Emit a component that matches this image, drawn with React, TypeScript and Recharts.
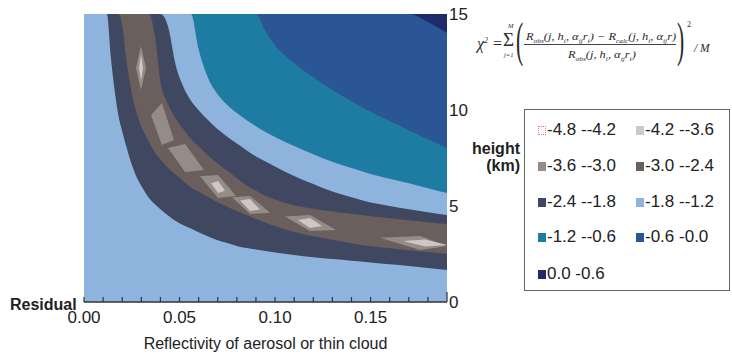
import React from 'react';
import { Area, CartesianGrid, ComposedChart, XAxis, YAxis } from 'recharts';

// reflectivity grid (x) and the height (km) of each contour line
const reflectivity = [
  0, 0.008, 0.01, 0.012, 0.014, 0.016, 0.018, 0.02, 0.022, 0.025, 0.028, 0.031, 0.034,
  0.037, 0.04, 0.044, 0.048, 0.052, 0.056, 0.06, 0.065, 0.07, 0.075, 0.08, 0.085, 0.09,
  0.095, 0.1, 0.11, 0.12, 0.13, 0.14, 0.15, 0.16, 0.17, 0.18, 0.19,
];
// 0.0 contour (blue / navy)
const contourZero = [
  15, 15, 15, 15, 15, 15, 15, 15, 15, 15, 15, 15, 15, 15, 15, 15, 15, 15, 15, 15, 15, 15,
  15, 15, 15, 15, 15, 15, 15, 15, 15, 15, 15, 15, 15, 14.58, 14.01,
];
// -0.6 contour (teal / blue)
const contour06 = [
  15, 15, 15, 15, 15, 15, 15, 15, 15, 15, 15, 15, 15, 15, 15, 15, 15, 15, 15, 15, 15, 15,
  15, 15, 15, 15, 14.1, 13.37, 12.44, 11.7, 11.04, 10.46, 9.91, 9.43, 8.95, 8.48, 8.02,
];
// -1.2 contour (light blue / teal)
const contour12 = [
  15, 15, 15, 15, 15, 15, 15, 15, 15, 15, 15, 15, 15, 15, 15, 15, 15, 15, 15, 13.16, 11.65,
  10.81, 10.26, 9.84, 9.48, 9.16, 8.86, 8.6, 8.13, 7.69, 7.3, 6.98, 6.67, 6.42, 6.18, 5.93,
  5.68,
];
// -1.8 contour, upper branch
const contour18Upper = [
  15, 15, 15, 15, 15, 15, 15, 15, 15, 15, 15, 15, 15, 15, 15, 14.35, 12.33, 11.21, 10.48,
  9.99, 9.47, 9.0, 8.61, 8.25, 7.91, 7.58, 7.32, 7.06, 6.56, 6.14, 5.75, 5.45, 5.18, 5.0,
  4.83, 4.68, 4.53,
];
// -2.4 contour, upper branch
const contour24Upper = [
  15, 15, 15, 15, 15, 15, 15, 15, 15, 15, 15, 15, 15, 13.94, 11.49, 10.31, 9.54, 9.01, 8.49,
  8.11, 7.63, 7.21, 6.83, 6.45, 6.07, 5.8, 5.54, 5.34, 5.04, 4.86, 4.72, 4.59, 4.46, 4.36,
  4.26, 4.16, 4.06,
];
// -2.4 contour, lower branch
const contour24Lower = [
  15, 15, 15, 15, 15, 15, 15, 14.44, 12.76, 10.88, 9.69, 8.92, 8.34, 7.8, 7.43, 6.98, 6.64,
  6.29, 5.96, 5.74, 5.47, 5.2, 4.96, 4.74, 4.53, 4.32, 4.13, 3.96, 3.64, 3.42, 3.24, 3.06,
  2.9, 2.8, 2.7, 2.6, 2.5,
];
// -1.8 contour, lower branch
const contour18Lower = [
  15, 15, 15, 15, 12.79, 11.04, 9.71, 8.88, 8.15, 7.16, 6.41, 5.89, 5.42, 5.1, 4.83, 4.51,
  4.22, 4.0, 3.83, 3.63, 3.41, 3.22, 3.07, 2.92, 2.81, 2.74, 2.66, 2.58, 2.45, 2.33, 2.24,
  2.15, 2.06, 1.96, 1.87, 1.77, 1.67,
];

// small closed patches inside the trough: [reflectivity, low height, high height]
const ridgeSpots = [
  [[0.0272, 12.19, 12.19], [0.0298, 11.04, 13.33], [0.0325, 12.19, 12.19]],
  [[0.0351, 9.74, 9.74], [0.0408, 8.18, 10.36], [0.0471, 8.44, 8.44]],
  [[0.044, 8.02, 8.02], [0.0529, 6.77, 8.23], [0.0628, 6.88, 6.88]],
  [[0.0607, 6.55, 6.55], [0.0702, 5.42, 6.61], [0.0796, 5.52, 5.52]],
  [[0.0775, 5.45, 5.45], [0.0869, 4.58, 5.52], [0.0974, 4.65, 4.65]],
  [[0.1052, 4.45, 4.45], [0.1183, 3.7, 4.53], [0.1319, 3.75, 3.75]],
  [[0.155, 3.35, 3.35], [0.1759, 2.71, 3.44], [0.19, 2.92, 2.92]],
];
const peakSpots = [
  [[0.0288, 12.2, 12.2], [0.0298, 11.5, 12.9], [0.0309, 12.2, 12.2]],
  [[0.0665, 6.19, 6.19], [0.0702, 5.68, 6.3], [0.0738, 5.79, 5.79]],
  [[0.0817, 5.29, 5.29], [0.0869, 4.74, 5.36], [0.0921, 4.82, 4.82]],
  [[0.112, 4.27, 4.27], [0.1183, 3.85, 4.38], [0.1246, 3.96, 3.96]],
  [[0.167, 3.18, 3.18], [0.1785, 2.89, 3.26], [0.19, 2.97, 2.97]],
];

const xTicks = [
  0, 0.01, 0.02, 0.03, 0.04, 0.05, 0.06, 0.07, 0.08, 0.09, 0.1, 0.11, 0.12, 0.13, 0.14,
  0.15, 0.16, 0.17, 0.18, 0.19,
];
const xLabelTicks = [0, 0.05, 0.1, 0.15];
const heightTicks = [0, 5, 10, 15];

const legendLabels = [
  '-4.8 --4.2', '-4.2 --3.6', '-3.6 --3.0', '-3.0 --2.4', '-2.4 --1.8',
  '-1.8 --1.2', '-1.2 --0.6', '-0.6 -0.0', '0.0 -0.6',
];

const C = {
  navy: '#1e2a6b',
  blue: '#2a5696',
  teal: '#1e7ba1',
  light: '#8eb4de',
  slate: '#3f4860',
  brown: '#6a5f5c',
  mid: '#958b87',
  pale: '#cec8c4',
  text: '#222',
};
const legendColors = [null, C.pale, C.mid, C.brown, C.slate, C.light, C.teal, C.blue, C.navy];

const rows: any[] = reflectivity.map((x, i) => ({
  x,
  g: contourZero[i],
  f: contour06[i],
  e: contour12[i],
  d: contour18Upper[i],
  c: contour24Upper[i],
  b: contour24Lower[i],
  a: contour18Lower[i],
}));
ridgeSpots.forEach((spot) => {
  spot.forEach(([x, lo, hi]) => rows.push({ x, ridge: [lo, hi] }));
  rows.push({ x: spot[2][0], ridge: null });
});
peakSpots.forEach((spot) => {
  spot.forEach(([x, lo, hi]) => rows.push({ x, peak: [lo, hi] }));
  rows.push({ x: spot[2][0], peak: null });
});

function ReflectivityTick(props: any) {
  const { x, y, payload } = props;
  const v = payload.value;
  const last = v === 0.19;
  return (
    <g>
      <line x1={x} x2={x} y1={y} y2={y - (last ? 10 : 5)} stroke="#333" strokeWidth={1.2} />
      {xLabelTicks.includes(v) && (
        <text x={x} y={y + 21} textAnchor="middle" fontSize={17} fill={C.text}>
          {v.toFixed(2)}
        </text>
      )}
    </g>
  );
}

const band = (key: string, color: string, type: any = 'monotone') => (
  <Area
    key={key}
    dataKey={key}
    type={type}
    fill={color}
    fillOpacity={1}
    stroke="none"
    dot={false}
    activeDot={false}
    connectNulls={type === 'monotone'}
    isAnimationActive={false}
  />
);

function Formula() {
  const serif = '"Liberation Serif", "DejaVu Serif", serif';
  const sub = { fontSize: 6.5, verticalAlign: 'sub' } as const;
  const abs = (left: number, top: number, extra: any = {}) => ({
    position: 'absolute' as const,
    left,
    top,
    lineHeight: 1,
    whiteSpace: 'nowrap' as const,
    ...extra,
  });
  const stretch = { transform: 'scaleX(1.13)', transformOrigin: 'left center' };
  const paren = { fontSize: 48, fontStyle: 'normal', transform: 'scaleX(0.45)', transformOrigin: 'left center' };
  const term = (r: string) => (
    <>
      R<span style={sub}>{r === 'c' ? 'calc' : 'obs'}</span>(j, h<span style={sub}>i</span>, α
      <span style={sub}>ij</span>r{r === 'c' ? '' : <span style={sub}>i</span>})
    </>
  );
  return (
    <div style={{ fontFamily: serif, fontStyle: 'italic', color: '#2a2a2a' }}>
      <div style={abs(477, 36, { fontSize: 16 })}>
        χ<span style={{ fontSize: 8, verticalAlign: 'super' }}>2</span> =
      </div>
      <div style={abs(508, 23, { fontSize: 6.5 })}>M</div>
      <div style={abs(503, 30, { fontSize: 19, fontStyle: 'normal' })}>Σ</div>
      <div style={abs(504, 52, { fontSize: 6.5 })}>j=1</div>
      <div style={abs(516, 16, paren)}>(</div>
      <div style={abs(526, 31, { fontSize: 11, ...stretch })}>
        {term('o')} − {term('c')}
      </div>
      <div style={abs(524, 44, { width: 152, height: 1, background: '#444' })} />
      <div style={abs(568, 49, { fontSize: 11, ...stretch })}>{term('o')}</div>
      <div style={abs(677, 16, paren)}>)</div>
      <div style={abs(687, 21, { fontSize: 8, fontStyle: 'normal' })}>2</div>
      <div style={abs(694, 43, { fontSize: 11.5 })}>/ M</div>
    </div>
  );
}

function ContourLegend() {
  const cols = [537, 635];
  const baselines = [134, 170, 206, 241.5, 278];
  return (
    <div
      style={{
        position: 'absolute',
        left: 524,
        top: 109,
        width: 206,
        height: 182,
        border: '1.5px solid #666',
        boxSizing: 'border-box',
      }}
    >
      {legendLabels.map((label, i) => {
        const left = cols[i % 2] - 524;
        const base = baselines[Math.floor(i / 2)] - 109;
        const color = legendColors[i];
        return (
          <div key={label} style={{ position: 'absolute', left, top: base - 14.4, fontSize: 17, lineHeight: '17px', whiteSpace: 'nowrap', color: C.text }}>
            <span
              style={{
                display: 'inline-block',
                width: 8,
                height: 9,
                marginRight: 1,
                background: color ?? 'transparent',
                border: color ? 'none' : '1.5px dotted #ec7a6a',
                boxSizing: 'border-box',
              }}
            />
            {label}
          </div>
        );
      })}
    </div>
  );
}

export default function App() {
  return (
    <div
      style={{
        position: 'absolute',
        left: 0,
        top: 0,
        width: 732,
        height: 357,
        background: '#fff',
        fontFamily: '"Liberation Sans", Arial, sans-serif',
        color: C.text,
      }}
    >
      <ComposedChart
        width={732}
        height={357}
        data={rows}
        margin={{ top: 14, right: 255, bottom: 25, left: 84 }}
      >
        <CartesianGrid fill={C.navy} horizontal={false} vertical={false} />
        <XAxis
          dataKey="x"
          type="number"
          domain={[0, 0.19]}
          ticks={xTicks}
          interval={0}
          height={30}
          tickSize={0}
          tickMargin={0}
          tickLine={false}
          axisLine={{ stroke: '#333', strokeWidth: 1.5 }}
          tick={<ReflectivityTick />}
          allowDataOverflow
        />
        <YAxis
          orientation="right"
          type="number"
          domain={[0, 15]}
          ticks={heightTicks}
          width={30}
          tickSize={0}
          tickMargin={2}
          tickLine={false}
          axisLine={false}
          tick={{ fontSize: 17, fill: C.text }}
          allowDataOverflow
        />
        {band('g', C.blue)}
        {band('f', C.teal)}
        {band('e', C.light)}
        {band('d', C.slate)}
        {band('c', C.brown)}
        {band('b', C.slate)}
        {band('a', C.light)}
        {band('ridge', C.mid, 'linear')}
        {band('peak', C.pale, 'linear')}
      </ComposedChart>

      <div style={{ position: 'absolute', left: 10, top: 297, fontSize: 16, lineHeight: '16px', fontWeight: 'bold' }}>
        Residual
      </div>
      <div style={{ position: 'absolute', left: 84, width: 363, top: 335.5, fontSize: 16, lineHeight: '16px', textAlign: 'center' }}>
        Reflectivity of aerosol or thin cloud
      </div>
      <div style={{ position: 'absolute', left: 460, width: 60, top: 140, fontSize: 16, lineHeight: '17px', fontWeight: 'bold', textAlign: 'right' }}>
        height
        <br />
        (km)
      </div>
      <Formula />
      <ContourLegend />
    </div>
  );
}
